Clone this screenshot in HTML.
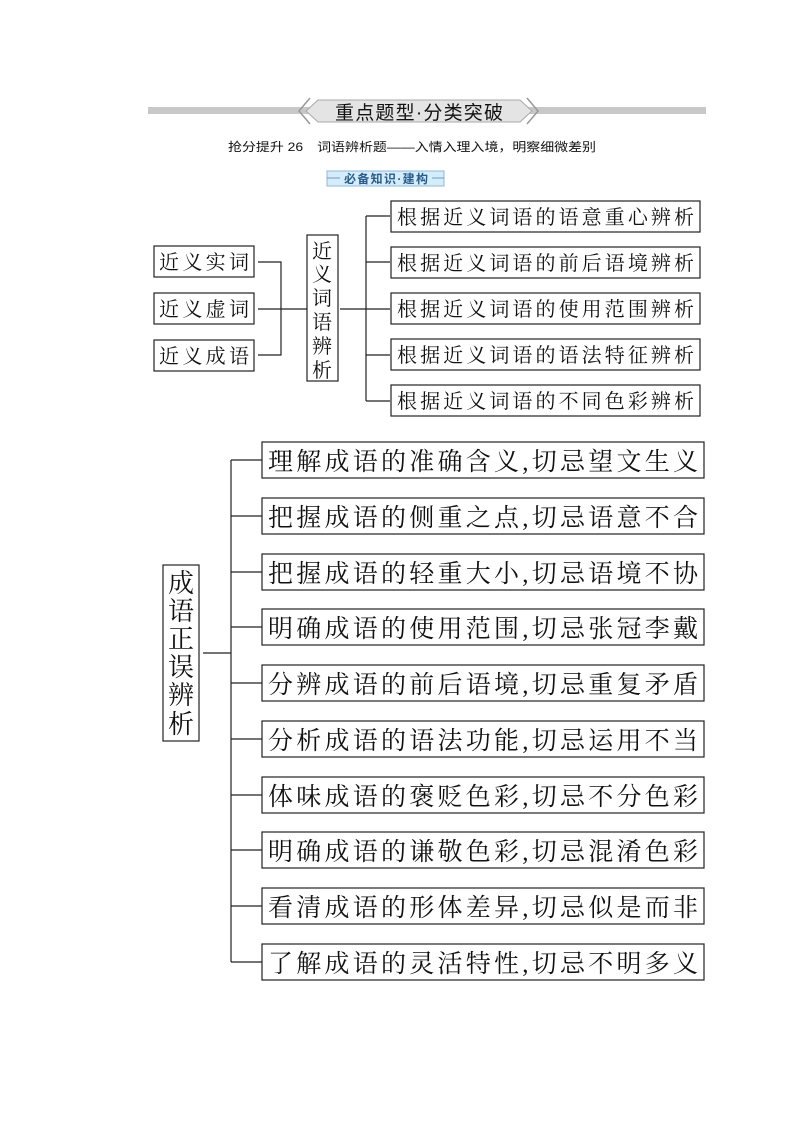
<!DOCTYPE html>
<html><head><meta charset="utf-8"><style>
html,body{margin:0;padding:0;background:#fff}
svg{display:block}
.t{font-family:"Liberation Serif","Noto Serif CJK SC",serif;fill:#111}
.s{font-family:"Liberation Sans","Noto Sans CJK SC",sans-serif;fill:#111}
</style></head><body>
<svg width="794" height="1123" viewBox="0 0 794 1123" xmlns="http://www.w3.org/2000/svg">
<rect x="148" y="107" width="558" height="7" fill="#c8c8c8"/>
<polygon points="318,100 520,100 532,111 520,122 318,122 306,111" fill="#e4e4e4" stroke="#aaa" stroke-width="1"/>
<polyline points="310,98 299,111 310,124" fill="none" stroke="#999" stroke-width="1.5"/>
<polyline points="527,98 538,111 527,124" fill="none" stroke="#999" stroke-width="1.5"/>
<text x="419" y="119" class="s" font-size="19" text-anchor="middle" textLength="168" lengthAdjust="spacing">重点题型·分类突破</text>
<text x="228" y="151" class="s" font-size="12" textLength="368" lengthAdjust="spacingAndGlyphs">抢分提升 26　词语辨析题——入情入理入境，明察细微差别</text>
<rect x="327" y="171" width="117" height="15" fill="#d5ecfb" stroke="#8fb8d8" stroke-width="1"/>
<line x1="327" y1="178" x2="340" y2="178" stroke="#6a9cc0"/>
<line x1="432" y1="178" x2="444" y2="178" stroke="#6a9cc0"/>
<text x="386" y="183" class="s" font-size="12" text-anchor="middle" style="fill:#2a5d8a;font-weight:bold" textLength="84" lengthAdjust="spacing">必备知识·建构</text>

<g stroke="#222" stroke-width="1.2" fill="none">
<rect x="154" y="246" width="100" height="31"/>
<rect x="154" y="293" width="100" height="31"/>
<rect x="154" y="340" width="100" height="31"/>
<polyline points="258,262 281,262 281,355 258,355"/>
<line x1="258" y1="309" x2="307" y2="309"/>
<rect x="307" y="235" width="31" height="146"/>
<line x1="340" y1="309" x2="366" y2="309"/>
<line x1="366" y1="216" x2="366" y2="401"/>
<line x1="366" y1="216" x2="390" y2="216"/>
<line x1="366" y1="262" x2="390" y2="262"/>
<line x1="366" y1="309" x2="390" y2="309"/>
<line x1="366" y1="355" x2="390" y2="355"/>
<line x1="366" y1="401" x2="390" y2="401"/>
<rect x="391" y="201" width="309" height="31"/>
<rect x="391" y="247" width="309" height="31"/>
<rect x="391" y="293" width="309" height="31"/>
<rect x="391" y="339" width="309" height="31"/>
<rect x="391" y="385" width="309" height="31"/>
<rect x="163" y="565" width="36" height="176"/>
<line x1="203" y1="653" x2="231" y2="653"/>
<line x1="231" y1="460" x2="231" y2="962"/>
<line x1="231" y1="460" x2="262" y2="460"/><rect x="262" y="442" width="442" height="36"/>
<line x1="231" y1="516" x2="262" y2="516"/><rect x="262" y="498" width="442" height="36"/>
<line x1="231" y1="572" x2="262" y2="572"/><rect x="262" y="554" width="442" height="36"/>
<line x1="231" y1="627" x2="262" y2="627"/><rect x="262" y="609" width="442" height="36"/>
<line x1="231" y1="683" x2="262" y2="683"/><rect x="262" y="665" width="442" height="36"/>
<line x1="231" y1="739" x2="262" y2="739"/><rect x="262" y="721" width="442" height="36"/>
<line x1="231" y1="795" x2="262" y2="795"/><rect x="262" y="777" width="442" height="36"/>
<line x1="231" y1="850" x2="262" y2="850"/><rect x="262" y="832" width="442" height="36"/>
<line x1="231" y1="906" x2="262" y2="906"/><rect x="262" y="888" width="442" height="36"/>
<line x1="231" y1="962" x2="262" y2="962"/><rect x="262" y="944" width="442" height="36"/>
</g>
<g class="t" font-size="20">
<text x="159" y="269" textLength="90" lengthAdjust="spacing">近义实词</text>
<text x="159" y="316" textLength="90" lengthAdjust="spacing">近义虚词</text>
<text x="159" y="363" textLength="90" lengthAdjust="spacing">近义成语</text>
<text x="312" y="258">近</text><text x="312" y="281">义</text><text x="312" y="305">词</text>
<text x="312" y="329">语</text><text x="312" y="353">辨</text><text x="312" y="377">析</text>
<text x="397" y="224" textLength="297" lengthAdjust="spacing">根据近义词语的语意重心辨析</text>
<text x="397" y="270" textLength="297" lengthAdjust="spacing">根据近义词语的前后语境辨析</text>
<text x="397" y="316" textLength="297" lengthAdjust="spacing">根据近义词语的使用范围辨析</text>
<text x="397" y="362" textLength="297" lengthAdjust="spacing">根据近义词语的语法特征辨析</text>
<text x="397" y="408" textLength="297" lengthAdjust="spacing">根据近义词语的不同色彩辨析</text>
</g>
<g class="t" font-size="26">
<text x="168" y="592">成</text><text x="168" y="620">语</text><text x="168" y="648">正</text>
<text x="168" y="676">误</text><text x="168" y="704">辨</text><text x="168" y="733">析</text>
</g>
<g class="t" font-size="25">
<text x="268" y="470" textLength="430" lengthAdjust="spacing">理解成语的准确含义,切忌望文生义</text>
<text x="268" y="526" textLength="430" lengthAdjust="spacing">把握成语的侧重之点,切忌语意不合</text>
<text x="268" y="582" textLength="430" lengthAdjust="spacing">把握成语的轻重大小,切忌语境不协</text>
<text x="268" y="637" textLength="430" lengthAdjust="spacing">明确成语的使用范围,切忌张冠李戴</text>
<text x="268" y="693" textLength="430" lengthAdjust="spacing">分辨成语的前后语境,切忌重复矛盾</text>
<text x="268" y="749" textLength="430" lengthAdjust="spacing">分析成语的语法功能,切忌运用不当</text>
<text x="268" y="805" textLength="430" lengthAdjust="spacing">体味成语的褒贬色彩,切忌不分色彩</text>
<text x="268" y="860" textLength="430" lengthAdjust="spacing">明确成语的谦敬色彩,切忌混淆色彩</text>
<text x="268" y="916" textLength="430" lengthAdjust="spacing">看清成语的形体差异,切忌似是而非</text>
<text x="268" y="972" textLength="430" lengthAdjust="spacing">了解成语的灵活特性,切忌不明多义</text>
</g>
</svg>
</body></html>
